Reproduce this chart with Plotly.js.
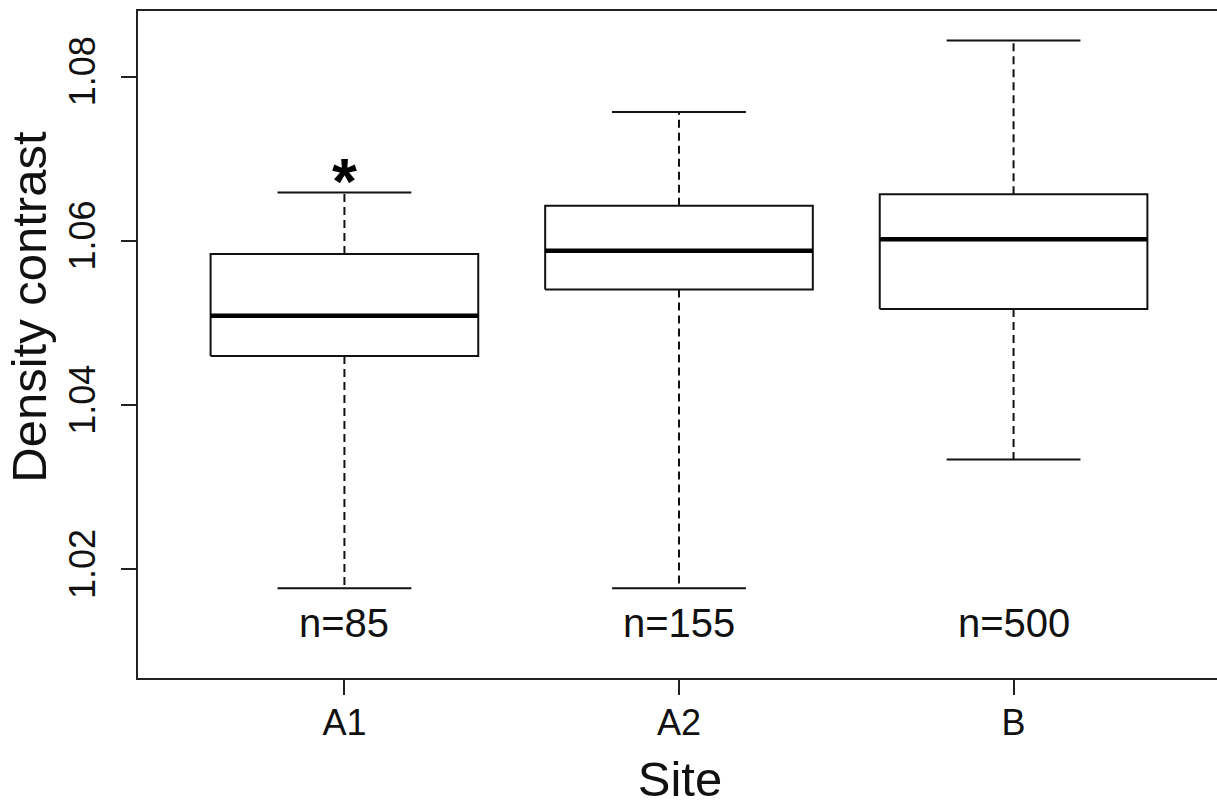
<!DOCTYPE html>
<html>
<head>
<meta charset="utf-8">
<script src="https://cdn.plot.ly/plotly-3.0.1.min.js"></script>
<style>
  html, body { margin: 0; padding: 0; background: #fff; overflow: hidden; }
  #chart { width: 1230px; height: 806px; }
</style>
</head>
<body>
<div id="chart"></div>
<script>
// Boxplot summary per site
const sites = ['A1', 'A2', 'B'];
const lowerWhisker = [1.0177, 1.0177, 1.0334];
const q1 = [1.0460, 1.0541, 1.0517];
const median = [1.0509, 1.0588, 1.0602];
const q3 = [1.0584, 1.0643, 1.0657];
const upperWhisker = [1.0659, 1.0757, 1.0844];
const counts = [85, 155, 500];
const marks = ['*', '', ''];
const yTicks = [1.02, 1.04, 1.06, 1.08];

const pos = sites.map((_, i) => i + 1);
const HALF_BOX = 0.4;
const HALF_CAP = 0.2;
const ink = '#111111';
const fontFamily = '"Liberation Sans", Arial, sans-serif';

const boxX = [], boxY = [], medX = [], medY = [];
const whiskX = [], whiskY = [], capX = [], capY = [];
pos.forEach((c, i) => {
  boxX.push(c - HALF_BOX, c + HALF_BOX, c + HALF_BOX, c - HALF_BOX, c - HALF_BOX, null);
  boxY.push(q1[i], q1[i], q3[i], q3[i], q1[i], null);
  medX.push(c - HALF_BOX, c + HALF_BOX, null);
  medY.push(median[i], median[i], null);
  whiskX.push(c, c, null, c, c, null);
  whiskY.push(q3[i], upperWhisker[i], null, q1[i], lowerWhisker[i], null);
  capX.push(c - HALF_CAP, c + HALF_CAP, null, c - HALF_CAP, c + HALF_CAP, null);
  capY.push(upperWhisker[i], upperWhisker[i], null, lowerWhisker[i], lowerWhisker[i], null);
});

const common = { type: 'scatter', mode: 'lines', hoverinfo: 'skip', showlegend: false };
const traces = [
  Object.assign({}, common, { x: whiskX, y: whiskY, line: { color: ink, width: 2, dash: '8px,5px' } }),
  Object.assign({}, common, { x: capX, y: capY, line: { color: ink, width: 2 } }),
  Object.assign({}, common, { x: boxX, y: boxY, line: { color: ink, width: 2 } }),
  Object.assign({}, common, { x: medX, y: medY, line: { color: '#000', width: 4.5 } })
];

const annotations = [];
pos.forEach((c, i) => {
  annotations.push({
    x: c, y: 1.01342, xref: 'x', yref: 'y', text: 'n=' + counts[i],
    showarrow: false, xanchor: 'center', yanchor: 'middle',
    font: { family: fontFamily, size: 40, color: ink }
  });
  if (marks[i]) {
    annotations.push({
      x: c, y: upperWhisker[i], xref: 'x', yref: 'y', text: '<b>' + marks[i] + '</b>',
      showarrow: false, xanchor: 'center', yanchor: 'bottom', yshift: -28,
      font: { family: fontFamily, size: 64, color: '#000' }
    });
  }
});
annotations.push({
  text: 'Density contrast', xref: 'paper', yref: 'paper',
  x: -0.1, y: 0.556, xanchor: 'center', yanchor: 'middle', textangle: -90,
  showarrow: false, font: { family: fontFamily, size: 49, color: ink }
});

const layout = {
  width: 1230, height: 806,
  margin: { l: 138, r: 8, t: 11, b: 128 },
  paper_bgcolor: '#fff', plot_bgcolor: '#fff',
  font: { family: fontFamily, color: ink },
  xaxis: {
    range: [0.383, 3.623], tickvals: pos, ticktext: sites,
    showgrid: false, zeroline: false, showline: true, mirror: true,
    linecolor: '#222', linewidth: 2, ticks: 'outside', ticklen: 15, tickwidth: 2, tickcolor: '#222',
    tickfont: { size: 36, color: ink }, ticklabelstandoff: -3,
    title: { text: 'Site', font: { size: 49, color: ink }, standoff: 21 }
  },
  yaxis: {
    range: [1.00678, 1.08800], tickvals: yTicks, ticktext: yTicks.map(v => v.toFixed(2)),
    showgrid: false, zeroline: false, showline: true, mirror: true,
    linecolor: '#222', linewidth: 2, ticks: 'outside', ticklen: 15, tickwidth: 2, tickcolor: '#222',
    tickangle: -90, tickfont: { size: 36, color: ink }, ticklabelstandoff: 12
  },
  annotations: annotations
};

Plotly.newPlot('chart', traces, layout, { displayModeBar: false, staticPlot: true });
</script>
</body>
</html>
